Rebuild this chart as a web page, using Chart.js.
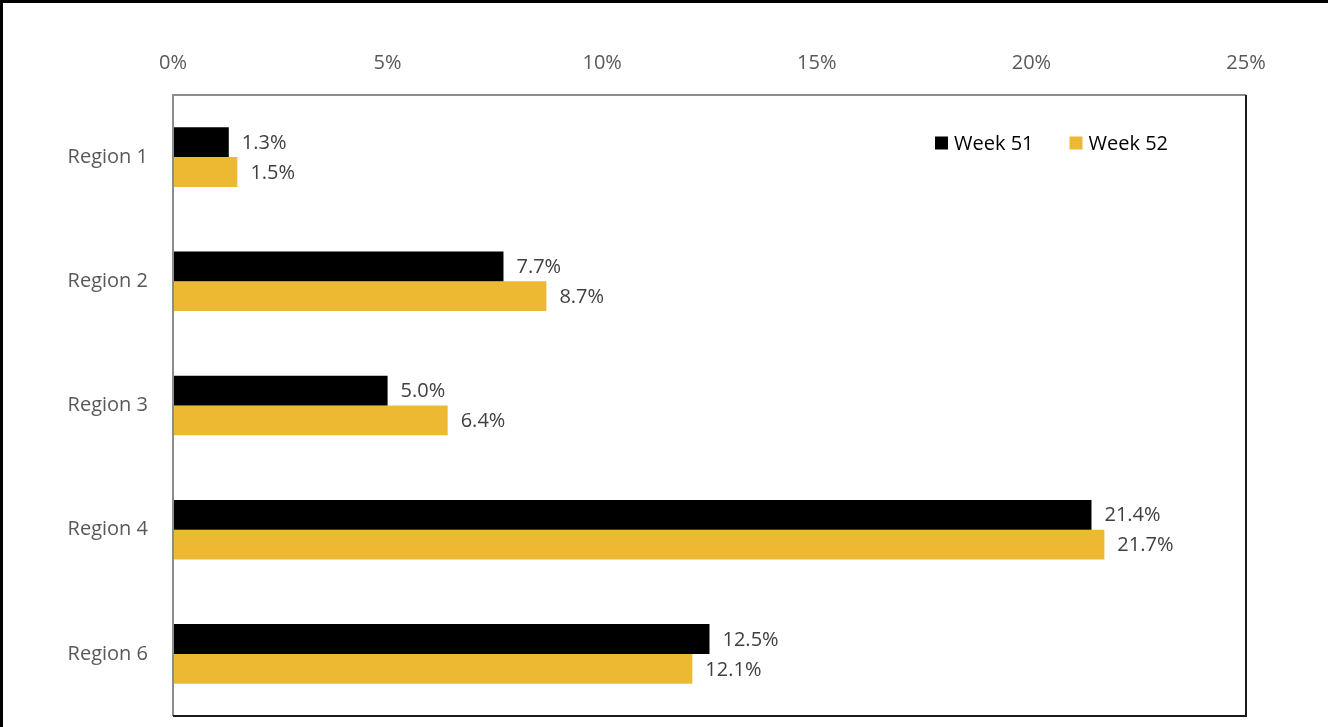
<!DOCTYPE html>
<html>
<head>
<meta charset="utf-8">
<script src="https://cdn.jsdelivr.net/npm/chart.js@4.4.1/dist/chart.umd.min.js"></script>
<style>
html,body{margin:0;padding:0;background:#fff;}
#frame{position:absolute;left:0;top:0;width:1328px;height:727px;box-sizing:border-box;border-left:3px solid #000;border-top:3px solid #000;}
</style>
</head>
<body>
<div id="frame"><canvas id="chart" width="1325" height="724"></canvas></div>
<script>
let regions = ["Region 1", "Region 2", "Region 3", "Region 4", "Region 6"];
let week51 = [1.3, 7.7, 5.0, 21.4, 12.5];
let week52 = [1.5, 8.7, 6.4, 21.7, 12.1];
let seriesNames = ["Week 51", "Week 52"];
let seriesColors = ["#000000", "#EEB932"];
let axisMin = 0;
let axisMax = 25;
let axisStep = 5;

let fontFamily = "'Open Sans', 'Noto Sans', sans-serif";

// frame of the plot area, value labels and the legend
let extras = {
    id: "extras",
    afterDatasetsDraw(chart) {
        let ctx = chart.ctx;
        let area = chart.chartArea;
        ctx.save();

        // value labels
        ctx.font = "20px " + fontFamily;
        ctx.fillStyle = "#404040";
        ctx.textAlign = "left";
        ctx.textBaseline = "middle";
        chart.data.datasets.forEach((ds, i) => {
            let meta = chart.getDatasetMeta(i);
            meta.data.forEach((bar, j) => {
                ctx.fillText(ds.data[j].toFixed(1) + "%", bar.x + 13, bar.y + 1);
            });
        });

        // plot frame
        ctx.lineWidth = 2;
        ctx.strokeStyle = "#8c8c8c";
        ctx.beginPath();
        ctx.moveTo(area.left, area.bottom);
        ctx.lineTo(area.left, area.top);
        ctx.lineTo(area.right, area.top);
        ctx.stroke();
        ctx.strokeStyle = "#1a1a1a";
        ctx.beginPath();
        ctx.moveTo(area.right, area.top);
        ctx.lineTo(area.right, area.bottom);
        ctx.lineTo(area.left, area.bottom);
        ctx.stroke();

        // legend
        let x = area.right - 311;
        let y = area.top + 48;
        ctx.font = "20px " + fontFamily;
        chart.data.datasets.forEach((ds) => {
            ctx.fillStyle = ds.backgroundColor;
            ctx.fillRect(x, y - 6.5, 13, 13);
            ctx.fillStyle = "#000";
            ctx.fillText(ds.label, x + 19, y + 1);
            x += 19 + ctx.measureText(ds.label).width + 36;
        });
        ctx.restore();
    }
};

let ctx = document.getElementById("chart").getContext("2d");
let chart = new Chart(ctx, {
    type: "bar",
    data: {
        labels: regions,
        datasets: [
            { label: seriesNames[0], data: week51, backgroundColor: seriesColors[0] },
            { label: seriesNames[1], data: week52, backgroundColor: seriesColors[1] }
        ]
    },
    options: {
        indexAxis: "y",
        responsive: false,
        animation: false,
        categoryPercentage: 0.48,
        barPercentage: 1.0,
        layout: { padding: { top: 0, left: 0, right: 82, bottom: 11 } },
        plugins: {
            legend: { display: false },
            tooltip: { enabled: false }
        },
        scales: {
            x: {
                type: "linear",
                position: "top",
                min: axisMin,
                max: axisMax,
                ticks: {
                    stepSize: axisStep,
                    padding: 20,
                    color: "#595959",
                    font: { size: 20, family: fontFamily },
                    callback: (v) => v + "%"
                },
                grid: { display: false, drawTicks: false },
                border: { display: false },
                afterFit: (s) => { s.height = 92; s.paddingRight = 0; s.paddingLeft = 0; }
            },
            y: {
                ticks: {
                    padding: 25,
                    color: "#595959",
                    font: { size: 20, family: fontFamily }
                },
                grid: { display: false, drawTicks: false },
                border: { display: false },
                afterFit: (s) => { s.width = 170; s.paddingTop = 0; s.paddingBottom = 0; }
            }
        }
    },
    plugins: [extras]
});
</script>
</body>
</html>
